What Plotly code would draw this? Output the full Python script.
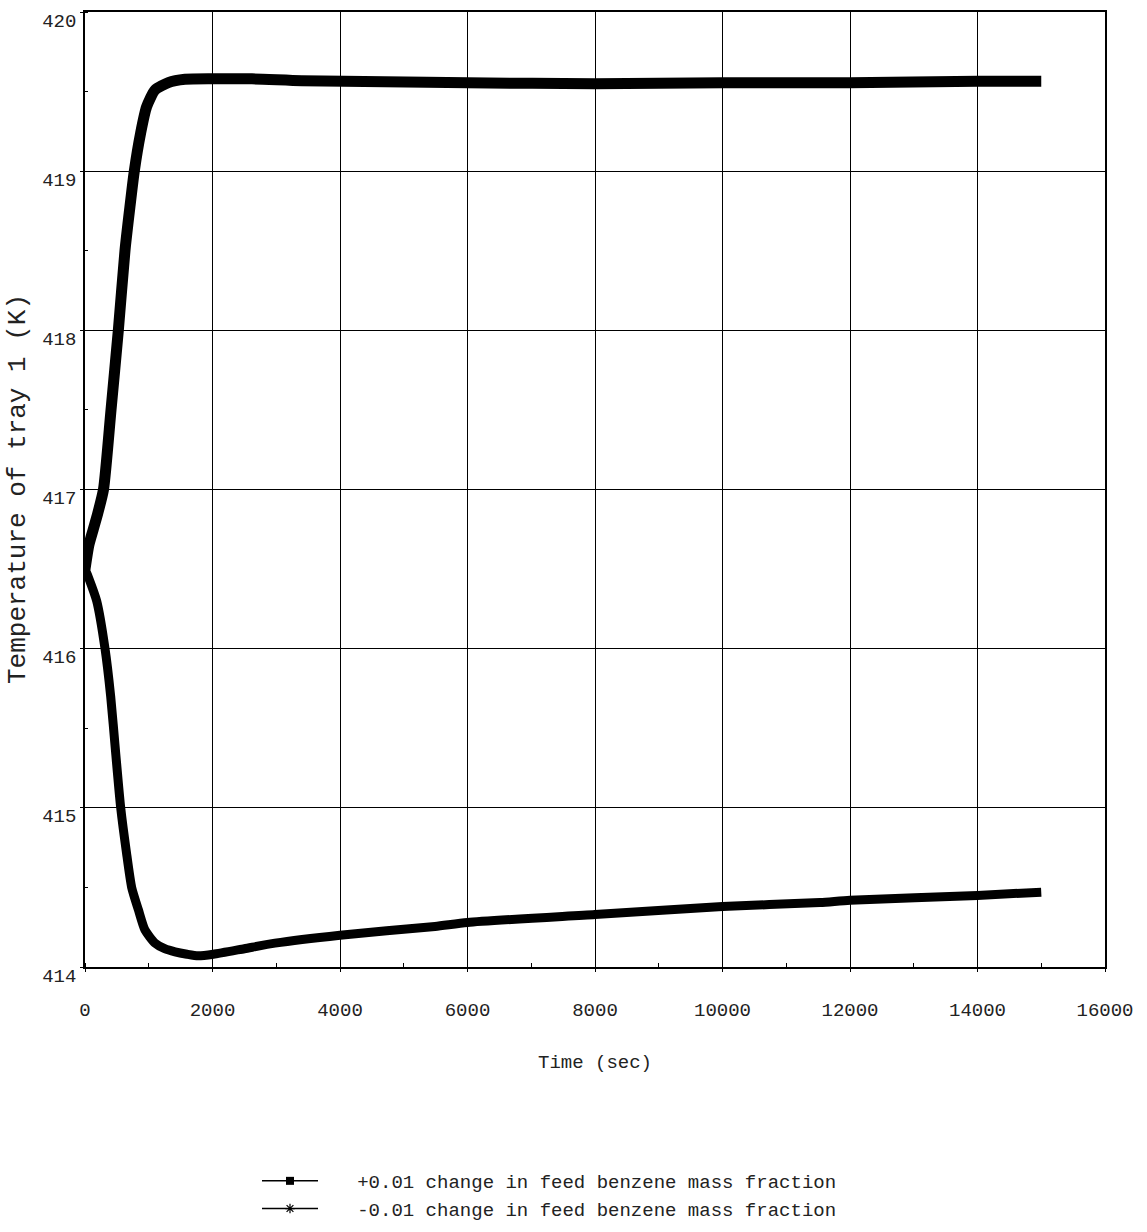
import plotly.graph_objects as go

# ---- data ----
t_up = [0, 60, 130, 200, 290, 408, 523, 627, 700, 773, 873, 967, 1098, 1307,
        1569, 2010, 2620, 3400, 4700, 6000, 8000, 10000, 12000, 14000, 15000]
T_up = [416.5, 416.65, 416.75, 416.85, 417.0, 417.5, 418.0, 418.5, 418.76, 419.0,
        419.24, 419.405, 419.51, 419.556, 419.577, 419.58, 419.58, 419.568,
        419.562, 419.555, 419.55, 419.555, 419.555, 419.565, 419.565]

t_dn = [0, 52, 183, 314, 403, 480, 560, 650, 732, 837, 940, 1098, 1250, 1412,
        1600, 1775, 2013, 2500, 2980, 4000, 5490, 6000, 8000, 10000, 11530, 12000,
        14000, 15000]
T_dn = [416.5, 416.45, 416.3, 416.0, 415.7, 415.35, 415.0, 414.72, 414.5, 414.36,
        414.233, 414.15, 414.115, 414.095, 414.08, 414.07, 414.08, 414.115,
        414.15, 414.2, 414.255, 414.28, 414.33, 414.38, 414.405, 414.42, 414.45, 414.47]

series_names = ["+0.01 change in feed benzene mass fraction",
                "-0.01 change in feed benzene mass fraction"]

x_ticks = [0, 2000, 4000, 6000, 8000, 10000, 12000, 14000, 16000]
y_ticks = [414, 415, 416, 417, 418, 419, 420]

x_title = "Time (sec)"
y_title = "Temperature of tray 1 (K)"

FONT = "Liberation Mono, DejaVu Sans Mono, monospace"
PAD = "\u00a0\u00a0\u00a0"

fig = go.Figure()
fig.add_trace(go.Scatter(x=t_up, y=T_up, mode="lines", showlegend=False,
                         line=dict(color="black", width=11, shape="spline", smoothing=0.6)))
fig.add_trace(go.Scatter(x=t_dn, y=T_dn, mode="lines", showlegend=False,
                         line=dict(color="black", width=9, shape="spline", smoothing=0.6)))
# legend entries
fig.add_trace(go.Scatter(x=[None], y=[None], mode="lines+markers", name=PAD + series_names[0],
                         line=dict(color="black", width=1.5),
                         marker=dict(symbol="square", size=8, color="black")))
fig.add_trace(go.Scatter(x=[None], y=[None], mode="lines+markers", name=PAD + series_names[1],
                         line=dict(color="black", width=1.5),
                         marker=dict(symbol="asterisk", size=8, color="black",
                                     line=dict(color="black", width=1.2))))

fig.update_layout(
    width=1147, height=1232,
    margin=dict(l=85, r=42, t=12, b=265, autoexpand=False),
    paper_bgcolor="white", plot_bgcolor="white",
    font=dict(family=FONT, size=19, color="#222"),
    showlegend=True,
    legend=dict(xref="container", yref="container",
                x=257 / 1147, xanchor="left", y=1 - 1162 / 1232, yanchor="top",
                itemwidth=56, bgcolor="rgba(0,0,0,0)", borderwidth=0,
                font=dict(family=FONT, size=19, color="#222"), tracegroupgap=0),
    annotations=[dict(text=y_title, textangle=-90, xref="paper", yref="paper",
                      x=(18 - 85) / 1020, y=(967 - 489) / 955, xanchor="center", yanchor="middle",
                      showarrow=False, font=dict(family=FONT, size=26, color="#222"))],
)

fig.update_xaxes(
    range=[0, 16000], tickvals=x_ticks, ticktext=[str(v) for v in x_ticks],
    showgrid=True, gridcolor="black", gridwidth=1,
    showline=True, linecolor="black", linewidth=1.5, mirror=True,
    ticks="outside", ticklen=3, tickcolor="black", ticklabelstandoff=21,
    minor=dict(dtick=1000, tick0=0, ticks="inside", ticklen=4, tickcolor="black", showgrid=False),
    zeroline=False,
    title=dict(text=x_title, font=dict(family=FONT, size=19, color="#222"), standoff=34),
)
fig.update_yaxes(
    range=[414, 420], tickvals=y_ticks, ticktext=[str(v) for v in y_ticks],
    showgrid=True, gridcolor="black", gridwidth=1,
    showline=True, linecolor="black", linewidth=1.5, mirror=True,
    ticks="outside", ticklen=3, tickcolor="black", ticklabelshift=8,
    minor=dict(dtick=0.5, tick0=414, ticks="inside", ticklen=3, tickcolor="black", showgrid=False),
    zeroline=False,
)

fig.write_html("out.html")
